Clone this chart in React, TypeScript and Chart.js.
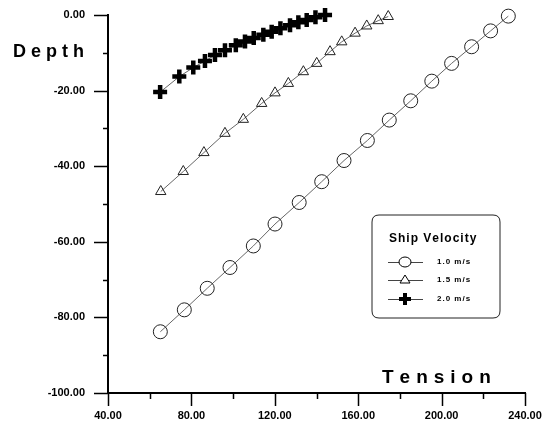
import React, { useEffect, useRef } from "react";
import { Chart, registerables } from "chart.js";

Chart.register(...registerables);

// 1.0 m/s (circles)
const tension10 = [65.1, 76.6, 87.6, 98.5, 109.7, 120.1, 131.7, 142.5, 153.2, 164.4, 174.9, 185.2, 195.3, 204.8, 214.4, 223.5, 232.0];
const depth10 = [-83.8, -78.0, -72.3, -66.8, -61.1, -55.3, -49.6, -44.1, -38.5, -33.2, -27.8, -22.7, -17.5, -12.8, -8.4, -4.2, -0.3];
// 1.5 m/s (triangles)
const tension15 = [65.3, 76.1, 86.0, 96.1, 104.9, 113.7, 120.1, 126.5, 133.7, 140.1, 146.5, 152.1, 158.5, 164.1, 169.6, 174.4];
const depth15 = [-46.7, -41.4, -36.4, -31.3, -27.6, -23.4, -20.6, -18.1, -15.0, -12.8, -9.7, -7.1, -4.8, -2.9, -1.5, -0.4];
// 2.0 m/s (crosses)
const tension20 = [65.0, 74.2, 80.9, 86.5, 91.3, 96.1, 101.3, 105.7, 109.9, 114.5, 118.5, 122.7, 127.3, 131.3, 135.3, 139.5, 144.1];
const depth20 = [-20.4, -16.3, -13.9, -12.2, -10.6, -9.3, -8.0, -7.0, -6.1, -5.2, -4.4, -3.5, -2.7, -1.9, -1.3, -0.6, 0.0];

const seriesLabels = ["1.0 m/s", "1.5 m/s", "2.0 m/s"];
const legendTitle = "Ship Velocity";
const xTitle = "Tension";
const yTitle = "Depth";

const FONT = "'Liberation Sans', Arial, Helvetica, sans-serif";

function zip(xs: number[], ys: number[]) {
  return xs.map((x, i) => ({ x, y: ys[i] }));
}

function drawSpaced(ctx: CanvasRenderingContext2D, text: string, x: number, y: number, spacing: number) {
  let cx = x;
  for (const ch of text) {
    ctx.fillText(ch, cx, y);
    cx += ctx.measureText(ch).width + spacing;
  }
}

const decorPlugin = {
  id: "decor",
  afterDraw(chart: any) {
    const ctx: CanvasRenderingContext2D = chart.ctx;
    const xs = chart.scales.x;
    const ys = chart.scales.y;
    const area = chart.chartArea;
    ctx.save();
    ctx.strokeStyle = "#000";
    ctx.lineWidth = 1.5;
    // x ticks
    for (let v = 40; v <= 240; v += 20) {
      const px = Math.round(xs.getPixelForValue(v)) + 0.5;
      const len = v % 40 === 0 ? 13 : 6;
      ctx.beginPath();
      ctx.moveTo(px, area.bottom);
      ctx.lineTo(px, area.bottom + len);
      ctx.stroke();
    }
    // y ticks
    for (let v = 0; v >= -100; v -= 10) {
      const py = Math.round(ys.getPixelForValue(v)) + 0.5;
      const len = v % 20 === 0 ? 14 : 5;
      ctx.beginPath();
      ctx.moveTo(area.left, py);
      ctx.lineTo(area.left - len, py);
      ctx.stroke();
    }
    // axis titles
    ctx.fillStyle = "#000";
    ctx.textBaseline = "alphabetic";
    ctx.textAlign = "left";
    ctx.font = `bold 18px ${FONT}`;
    drawSpaced(ctx, yTitle, 13, 57, 5);
    ctx.font = `bold 19px ${FONT}`;
    drawSpaced(ctx, xTitle, 382, 383, 6);

    // legend box
    const bx = 372, by = 215, bw = 128, bh = 103, r = 7;
    ctx.lineWidth = 1;
    ctx.strokeStyle = "#222";
    ctx.beginPath();
    ctx.moveTo(bx + r, by);
    ctx.lineTo(bx + bw - r, by);
    ctx.quadraticCurveTo(bx + bw, by, bx + bw, by + r);
    ctx.lineTo(bx + bw, by + bh - r);
    ctx.quadraticCurveTo(bx + bw, by + bh, bx + bw - r, by + bh);
    ctx.lineTo(bx + r, by + bh);
    ctx.quadraticCurveTo(bx, by + bh, bx, by + bh - r);
    ctx.lineTo(bx, by + r);
    ctx.quadraticCurveTo(bx, by, bx + r, by);
    ctx.stroke();

    ctx.font = `bold 12px ${FONT}`;
    drawSpaced(ctx, legendTitle, 389, 242, 1);

    const rows = [262, 280, 299];
    rows.forEach((ry, i) => {
      ctx.strokeStyle = "#444";
      ctx.lineWidth = 1;
      ctx.beginPath();
      ctx.moveTo(388, ry + 0.5);
      ctx.lineTo(423, ry + 0.5);
      ctx.stroke();
      const cx = 405;
      ctx.strokeStyle = "#000";
      if (i === 0) {
        ctx.fillStyle = "#fff";
        ctx.beginPath();
        ctx.ellipse(cx, ry, 6, 5, 0, 0, Math.PI * 2);
        ctx.fill();
        ctx.stroke();
      } else if (i === 1) {
        ctx.fillStyle = "#fff";
        ctx.beginPath();
        ctx.moveTo(cx, ry - 5);
        ctx.lineTo(cx + 5, ry + 3);
        ctx.lineTo(cx - 5, ry + 3);
        ctx.closePath();
        ctx.fill();
        ctx.stroke();
      } else {
        ctx.lineWidth = 4;
        ctx.beginPath();
        ctx.moveTo(cx - 6, ry);
        ctx.lineTo(cx + 6, ry);
        ctx.moveTo(cx, ry - 6);
        ctx.lineTo(cx, ry + 6);
        ctx.stroke();
      }
      ctx.fillStyle = "#000";
      ctx.font = `bold 8px ${FONT}`;
      ctx.textBaseline = "middle";
      drawSpaced(ctx, seriesLabels[i], 437, ry, 1);
      ctx.textBaseline = "alphabetic";
    });
    ctx.restore();
  },
};

export default function App() {
  const ref = useRef<HTMLCanvasElement | null>(null);
  useEffect(() => {
    document.body.style.margin = "0";
    if (!ref.current) return;
    const lineColor = "#666";
    const chart = new Chart(ref.current, {
      type: "line",
      data: {
        datasets: [
          {
            label: seriesLabels[0],
            data: zip(tension10, depth10),
            borderColor: lineColor,
            borderWidth: 1,
            pointStyle: "circle",
            pointRadius: 7,
            pointBorderColor: "#222",
            pointBorderWidth: 1,
            pointBackgroundColor: "rgba(255,255,255,0)",
            fill: false,
            clip: false,
          },
          {
            label: seriesLabels[1],
            data: zip(tension15, depth15),
            borderColor: lineColor,
            borderWidth: 1,
            pointStyle: "triangle",
            pointRadius: 6,
            pointBorderColor: "#222",
            pointBorderWidth: 1,
            pointBackgroundColor: "rgba(255,255,255,0)",
            fill: false,
            clip: false,
          },
          {
            label: seriesLabels[2],
            data: zip(tension20, depth20),
            borderColor: lineColor,
            borderWidth: 1,
            pointStyle: "cross",
            pointRadius: 7,
            pointBorderColor: "#000",
            pointBorderWidth: 4.5,
            fill: false,
            clip: false,
          },
        ],
      },
      options: {
        animation: false,
        responsive: false,
        devicePixelRatio: 1,
        layout: { padding: { left: 0, top: 15, right: 28, bottom: 0 } },
        plugins: { legend: { display: false }, tooltip: { enabled: false } },
        scales: {
          x: {
            type: "linear",
            min: 40,
            max: 240,
            afterFit: (s: any) => { s.height = 31; },
            grid: { display: false, drawTicks: true, tickLength: 16 },
            border: { display: true, color: "#000", width: 2 },
            ticks: {
              stepSize: 40,
              padding: 0,
              color: "#000",
              font: { family: FONT, size: 11, weight: "bold" },
              callback: (v: any) => Number(v).toFixed(2),
              maxRotation: 0,
            },
          },
          y: {
            type: "linear",
            min: -100,
            max: 0,
            afterFit: (s: any) => { s.width = 108; },
            grid: { display: false, drawTicks: true, tickLength: 23 },
            border: { display: true, color: "#000", width: 2 },
            ticks: {
              stepSize: 20,
              padding: 0,
              color: "#000",
              font: { family: FONT, size: 11, weight: "bold" },
              callback: (v: any) => Number(v).toFixed(2),
            },
          },
        },
      },
      plugins: [decorPlugin],
    } as any);
    return () => chart.destroy();
  }, []);
  return (
    <div style={{ width: 553, height: 424 }}>
      <canvas ref={ref} width={553} height={424} style={{ display: "block" }} />
    </div>
  );
}
